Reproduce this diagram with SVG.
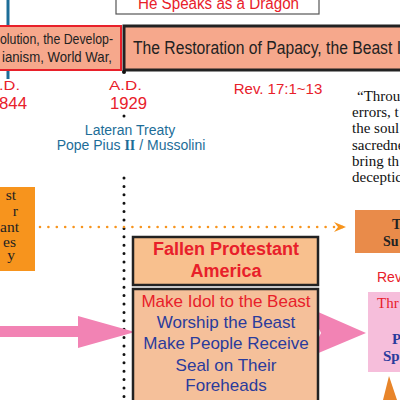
<svg xmlns="http://www.w3.org/2000/svg" width="400" height="400" viewBox="0 0 400 400">
<defs>
<style>
.sans{font-family:"Liberation Sans",Arial,sans-serif}
.serif{font-family:"Liberation Serif","Times New Roman",serif}
.red{fill:#e8202a}
.blue{fill:#2a3b9c}
.teal{fill:#1d6d98}
</style>
<marker id="oh" markerWidth="12" markerHeight="10" refX="10" refY="5" orient="auto" markerUnits="userSpaceOnUse">
<path d="M0,0 L12,5 L0,10 L4,5 Z" fill="#f7941d"/>
</marker>
</defs>
<rect width="400" height="400" fill="#ffffff"/>
<line x1="8" y1="0" x2="8" y2="79" stroke="#1d6d98" stroke-width="3"/>

<g id="dragon">
<rect x="116" y="-5" width="203" height="19" fill="#fff" stroke="#555" stroke-width="1.2"/>
<text x="138" y="9" class="sans red" font-size="16" textLength="161" lengthAdjust="spacingAndGlyphs">He Speaks as a Dragon</text>
</g>

<g id="leftbox">
<rect x="-5" y="26" width="126" height="44" fill="#f6a88c" stroke="#e8202a" stroke-width="2"/>
<text x="113" y="44" class="sans" font-size="15" text-anchor="end" fill="#222" textLength="113" lengthAdjust="spacingAndGlyphs">olution, the Develop-</text>
<text x="112" y="62" class="sans" font-size="15" text-anchor="end" fill="#222" textLength="110" lengthAdjust="spacingAndGlyphs">ianism,  World War,</text>
</g>

<g id="papacy">
<rect x="124" y="26" width="290" height="44" fill="#f6a88c" stroke="#222" stroke-width="3"/>
<text x="133" y="54" class="sans" font-size="17.5" fill="#222" textLength="268" lengthAdjust="spacingAndGlyphs">The Restoration of Papacy,  the Beast I</text>
</g>
<circle cx="124" cy="72" r="2" fill="#111"/>

<g id="ad1844">
<text x="-1" y="90" class="sans red" font-size="13" textLength="21" lengthAdjust="spacingAndGlyphs">.D.</text>
<text x="-1" y="109" class="sans red" font-size="16" textLength="28" lengthAdjust="spacingAndGlyphs">844</text>
</g>
<g id="ad1929">
<text x="109" y="90" class="sans red" font-size="13" textLength="33" lengthAdjust="spacingAndGlyphs">A.D.</text>
<text x="110" y="109" class="sans red" font-size="16" textLength="37" lengthAdjust="spacingAndGlyphs">1929</text>
<circle cx="124" cy="116" r="1.5" fill="#111"/>
<text x="130" y="135" class="sans teal" font-size="14" text-anchor="middle">Lateran Treaty</text>
<text x="131" y="150" class="sans teal" font-size="14" text-anchor="middle">Pope Pius <tspan font-family="Liberation Serif,serif" font-weight="bold">II</tspan> / Mussolini</text>
</g>

<text x="278" y="94" class="sans red" font-size="15" text-anchor="middle">Rev. 17:1~13</text>

<g id="quote" class="serif" font-size="15" fill="#111">
<text x="357" y="101">“Throu</text>
<text x="352" y="117">errors, t</text>
<text x="352" y="133">the soul</text>
<text x="352" y="150">sacredne</text>
<text x="352" y="166">bring th</text>
<text x="352" y="182">deceptic</text>
</g>

<g id="connectors">
<line x1="124" y1="178" x2="124" y2="400" stroke="#111" stroke-width="3" stroke-linecap="round" stroke-dasharray="0 8.4"/>
<line x1="40" y1="227" x2="344" y2="227" stroke="#f7941d" stroke-width="2.6" stroke-linecap="round" stroke-dasharray="0 8.4" marker-end="url(#oh)"/>
<path d="M0,326 L78,326 L78,316 L135,332 L78,348 L78,337 L0,337 Z" fill="#f283b4"/>
<path d="M309,308 L366,333 L309,357 L321,333 Z" fill="#f283b4"/>
<path d="M383,400 L389,376 L397,400 Z" fill="#e8852a"/>
</g>

<g id="orangeleft">
<rect x="-5" y="187" width="40" height="84" fill="#f7941d"/>
<g class="serif" font-size="15.5" fill="#222" text-anchor="end">
<text x="16" y="200">st</text>
<text x="18" y="216">r</text>
<text x="19" y="232">ant</text>
<text x="16" y="247">es</text>
<text x="15" y="260">y</text>
</g>
</g>

<g id="orangeright">
<rect x="355" y="210" width="50" height="43" fill="#e98b4a"/>
<text x="392" y="229" class="serif" font-size="14" font-weight="bold" fill="#222">T</text>
<text x="383" y="246" class="serif" font-size="14" font-weight="bold" fill="#222">Su</text>
</g>

<g id="fallen">
<rect x="133" y="237" width="185" height="48" fill="#f8c08e" stroke="#222" stroke-width="2.5"/>
<text x="226" y="255" class="sans red" font-size="18" font-weight="bold" text-anchor="middle">Fallen Protestant</text>
<text x="226" y="277" class="sans red" font-size="18" font-weight="bold" text-anchor="middle">America</text>
</g>

<g id="idol">
<rect x="133" y="289" width="185" height="120" fill="#f5c09a" stroke="#222" stroke-width="2.5"/>
<g class="sans" font-size="17" text-anchor="middle">
<text x="226" y="307" class="red">Make Idol to the Beast</text>
<text x="226" y="328" class="blue">Worship the Beast</text>
<text x="226" y="349" class="blue">Make People Receive</text>
<text x="226" y="371" class="blue">Seal on Their</text>
<text x="226" y="391" class="blue">Foreheads</text>
</g>
</g>

<text x="377" y="282" class="sans red" font-size="14">Rev.</text>

<g id="pinkbox">
<rect x="368" y="292" width="40" height="80" fill="#f6bedb"/>
<text x="377" y="308" class="serif red" font-size="15">Thr</text>
<text x="392" y="344" class="serif blue" font-size="15" font-weight="bold">P</text>
<text x="383" y="361" class="serif blue" font-size="15" font-weight="bold">Sp</text>
</g>
</svg>
